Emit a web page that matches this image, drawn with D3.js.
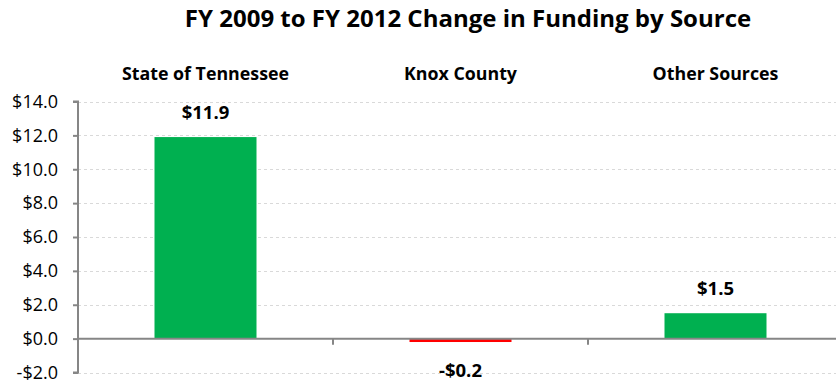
<!DOCTYPE html>
<html>
<head>
<meta charset="utf-8">
<script src="https://cdn.jsdelivr.net/npm/d3@7"></script>
<style>
  body { margin: 0; background: #fff; }
  text { font-family: "Open Sans", Lato, sans-serif; fill: #000; }
  .title { font-size: 24px; font-weight: bold; }
  .cat-label { font-size: 17.8px; font-weight: bold; }
  .value-label { font-size: 18.5px; font-weight: bold; }
  .tick text { font-size: 18px; }
</style>
</head>
<body>
<svg width="836" height="386"></svg>
<script>
const categories = ['State of Tennessee', 'Knox County', 'Other Sources'];
const values = [11.9, -0.2, 1.5];
const valueLabels = ['$11.9', '-$0.2', '$1.5'];
const yTicks = [-2, 0, 2, 4, 6, 8, 10, 12, 14];

const svg = d3.select('svg');
const width = +svg.attr('width');

const margin = {left: 78, top: 101.5};
const plotRight = 843;   // the chart runs a bit past the right edge
const yBottom = 372.5;

const xScale = d3.scaleBand()
  .domain(categories)
  .range([margin.left, plotRight])
  .paddingInner(0)
  .paddingOuter(0);

const yScale = d3.scaleLinear()
  .domain([-2, 14])
  .range([yBottom, margin.top]);

// title
svg.append('text')
  .attr('class', 'title')
  .attr('x', 468)
  .attr('y', 27)
  .attr('text-anchor', 'middle')
  .text('FY 2009 to FY 2012 Change in Funding by Source');

// gridlines
svg.append('g')
  .selectAll('line').data(yTicks.filter(d => d !== 0))
  .enter().append('line')
    .attr('x1', margin.left)
    .attr('x2', width)
    .attr('y1', d => Math.round(yScale(d)) + 0.5)
    .attr('y2', d => Math.round(yScale(d)) + 0.5)
    .attr('stroke', '#d9d9d9')
    .attr('stroke-dasharray', '3,3');

// y axis
const yAxis = d3.axisLeft(yScale)
  .tickValues(yTicks)
  .tickSize(5)
  .tickPadding(15)
  .tickFormat(d => (d < 0 ? '-$' : '$') + Math.abs(d).toFixed(1));

const yAxisG = svg.append('g')
  .attr('transform', `translate(${margin.left},0)`)
  .call(yAxis);
yAxisG.selectAll('line, path').attr('stroke', '#868686').attr('stroke-width', 2);
yAxisG.select('.domain').attr('d', `M-5,${yScale(14)}H0V${yScale(-2)}H-5`);

// bars
svg.append('g')
  .selectAll('rect').data(values)
  .enter().append('rect')
    .attr('x', (d, i) => xScale(categories[i]) + xScale.bandwidth() * 0.3)
    .attr('width', xScale.bandwidth() * 0.4)
    .attr('y', d => yScale(Math.max(0, d)))
    .attr('height', d => Math.abs(yScale(d) - yScale(0)))
    .attr('fill', d => d < 0 ? '#ff0000' : '#00b050');

// x axis at zero
const xAxisG = svg.append('g')
  .attr('transform', `translate(0,${yScale(0)})`);
xAxisG.append('line')
  .attr('x1', margin.left)
  .attr('x2', width)
  .attr('stroke', '#868686')
  .attr('stroke-width', 2);
xAxisG.selectAll('.cat-tick').data(categories.slice(1))
  .enter().append('line')
    .attr('class', 'cat-tick')
    .attr('x1', d => xScale(d))
    .attr('x2', d => xScale(d))
    .attr('y1', 0)
    .attr('y2', 6)
    .attr('stroke', '#868686')
    .attr('stroke-width', 2);

// category labels on top
svg.append('g')
  .selectAll('text').data(categories)
  .enter().append('text')
    .attr('class', 'cat-label')
    .attr('x', d => xScale(d) + xScale.bandwidth() / 2)
    .attr('y', 80)
    .attr('text-anchor', 'middle')
    .text(d => d);

// value labels
svg.append('g')
  .selectAll('text').data(values)
  .enter().append('text')
    .attr('class', 'value-label')
    .attr('x', (d, i) => xScale(categories[i]) + xScale.bandwidth() / 2)
    .attr('y', d => d < 0 ? yScale(d) + 35 : yScale(d) - 18)
    .attr('text-anchor', 'middle')
    .text((d, i) => valueLabels[i]);
</script>
</body>
</html>
